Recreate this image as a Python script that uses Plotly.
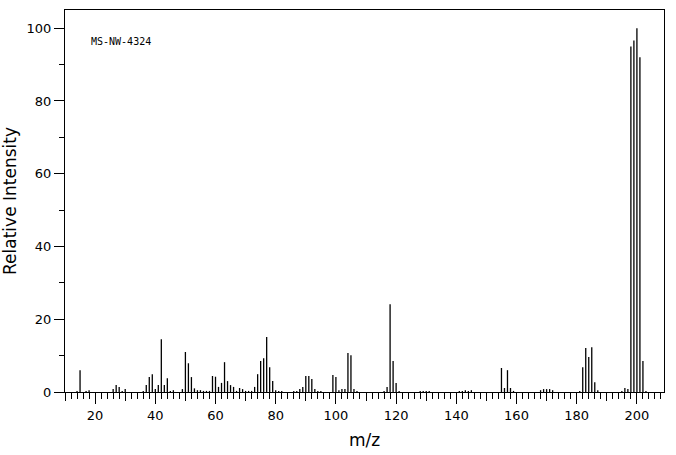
import plotly.graph_objects as go

# m/z values and relative intensities
mz = [14, 15, 17, 18, 26, 27, 28, 29, 30, 36, 37, 38, 39, 40, 41, 42, 43, 44, 45, 46,
      49, 50, 51, 52, 53, 54, 55, 56, 57, 58, 59, 60, 61, 62, 63, 64, 65, 66, 67, 68,
      69, 70, 71, 72, 73, 74, 75, 76, 77, 78, 79, 80, 81, 82, 86, 87, 88, 89, 90, 91,
      92, 93, 94, 95, 99, 100, 101, 102, 103, 104, 105, 106, 107, 116, 117, 118, 119, 120, 121,
      128, 129, 130, 131, 141, 142, 143, 144, 145, 155, 156, 157, 158, 159,
      168, 169, 170, 171, 172, 181, 182, 183, 184, 185, 186, 187,
      195, 196, 197, 198, 199, 200, 201, 202, 203]
intensity = [0.3, 6.0, 0.3, 0.5, 0.8, 1.9, 1.4, 0.3, 0.8, 0.3, 1.9, 4.1, 4.9, 0.8, 1.9, 14.5, 1.9, 3.8, 0.3, 0.5,
             0.8, 11.0, 7.9, 4.1, 1.0, 0.5, 0.5, 0.3, 0.3, 0.3, 4.4, 4.2, 1.4, 2.5, 8.2, 3.0, 1.9, 1.4, 0.3, 1.1,
             0.8, 0.3, 0.3, 0.3, 1.4, 4.9, 8.5, 9.3, 15.1, 6.8, 3.0, 0.5, 0.3, 0.3, 0.3, 0.3, 0.8, 1.4, 4.4, 4.4,
             3.6, 0.8, 0.3, 0.3, 4.7, 4.1, 0.5, 0.8, 0.8, 10.7, 10.1, 0.8, 0.3, 0.3, 1.4, 24.1, 8.5, 2.5, 0.3,
             0.3, 0.3, 0.3, 0.3, 0.3, 0.3, 0.5, 0.3, 0.5, 6.6, 1.1, 6.0, 1.1, 0.3,
             0.5, 0.8, 0.8, 0.8, 0.5, 0.3, 6.8, 12.1, 9.6, 12.3, 2.7, 0.5,
             0.3, 1.1, 0.8, 95.0, 96.6, 100.0, 92.0, 8.5, 0.3]

x_range = [10, 209]
y_range = [0, 105]
label = "MS-NW-4324"

# build stems
sx, sy = [], []
for m, v in zip(mz, intensity):
    sx += [m, m, None]
    sy += [0, v, None]

fig = go.Figure()
fig.add_trace(go.Scatter(x=sx, y=sy, mode="lines",
                         line=dict(color="black", width=1.3),
                         hoverinfo="skip", showlegend=False))
# invisible helper trace so the medium-tick axis is rendered
fig.add_trace(go.Scatter(x=mz, y=intensity, mode="markers", xaxis="x2",
                         marker=dict(opacity=0), hoverinfo="skip", showlegend=False))

font_main = "DejaVu Sans"
fig.update_layout(
    width=676, height=455,
    margin=dict(l=63, r=12, t=9, b=62),
    paper_bgcolor="white", plot_bgcolor="white",
    font=dict(family=font_main, size=12, color="black"),
    xaxis=dict(range=x_range, tick0=0, dtick=20, ticks="outside", ticklen=11,
               tickcolor="black", tickwidth=1,
               minor=dict(dtick=2, tick0=0, ticks="outside", ticklen=6, tickcolor="black"),
               showline=True, linecolor="black", linewidth=1, mirror=True,
               showgrid=False, zeroline=False,
               tickfont=dict(size=13),
               title=dict(text="m/z", font=dict(size=17), standoff=12)),
    xaxis2=dict(range=x_range, overlaying="x", anchor="y", side="bottom",
                tick0=0, dtick=10, ticks="outside", ticklen=8, tickcolor="black",
                showticklabels=False, showgrid=False, showline=False, zeroline=False),
    yaxis=dict(range=y_range, tick0=0, dtick=20, ticks="outside", ticklen=10,
               tickcolor="black", tickwidth=1,
               minor=dict(dtick=10, tick0=0, ticks="outside", ticklen=5, tickcolor="black"),
               showline=True, linecolor="black", linewidth=1, mirror=True,
               showgrid=False, zeroline=False,
               tickfont=dict(size=13),
               title=dict(text="Relative Intensity", font=dict(size=17), standoff=6)),
    annotations=[dict(text=label, xref="paper", yref="paper", x=0.04, y=0.917,
                      xanchor="left", yanchor="middle", showarrow=False,
                      font=dict(family="DejaVu Sans Mono", size=10, color="black"))],
)

fig.write_html("out.html")
